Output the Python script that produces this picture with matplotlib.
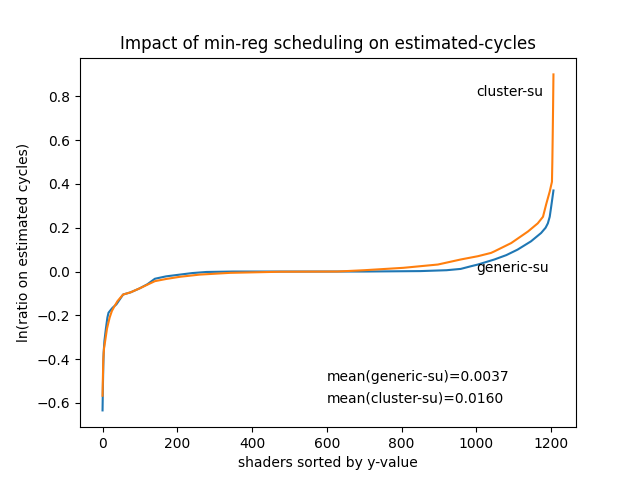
import matplotlib
matplotlib.use("Agg")
import matplotlib.pyplot as plt

generic_x = [0, 1, 2, 3, 5, 9, 13, 16, 22, 27, 37, 45, 55, 75, 99, 120, 140,
             170, 207, 240, 278, 350, 500, 700, 850, 920, 958, 985, 1004,
             1048, 1080, 1110, 1146, 1173, 1185, 1191, 1196, 1200, 1206]
generic_y = [-0.634, -0.52, -0.43, -0.37, -0.317, -0.26, -0.21, -0.188,
             -0.175, -0.165, -0.15, -0.13, -0.105, -0.095, -0.077, -0.058,
             -0.033, -0.022, -0.014, -0.007, -0.002, 0.0, 0.0, 0.0, 0.002,
             0.006, 0.012, 0.024, 0.032, 0.055, 0.075, 0.1, 0.138, 0.176,
             0.2, 0.22, 0.25, 0.297, 0.37]

cluster_x = [0, 1, 2, 4, 7, 12, 19, 25, 32, 40, 55, 75, 99, 120, 140, 170,
             207, 260, 341, 475, 628, 700, 805, 897, 958, 1004, 1039, 1048,
             1093, 1138, 1164, 1178, 1187, 1196, 1202, 1203, 1204, 1205, 1206]
cluster_y = [-0.567, -0.48, -0.4, -0.35, -0.317, -0.26, -0.21, -0.18, -0.158,
             -0.135, -0.105, -0.095, -0.077, -0.06, -0.044, -0.034, -0.024,
             -0.014, -0.006, -0.001, 0.0, 0.006, 0.017, 0.032, 0.055, 0.07,
             0.085, 0.092, 0.13, 0.183, 0.22, 0.25, 0.31, 0.365, 0.41, 0.5,
             0.62, 0.75, 0.90]

mean_generic = 0.0037
mean_cluster = 0.0160

fig, ax = plt.subplots(figsize=(6.4, 4.8), dpi=100)
ax.plot(generic_x, generic_y)
ax.plot(cluster_x, cluster_y)

ax.text(1000, 0.8, "cluster-su")
ax.text(1000, 0.0, "generic-su")
ax.text(600, -0.5, f"mean(generic-su)={mean_generic:.4f}")
ax.text(600, -0.6, f"mean(cluster-su)={mean_cluster:.4f}")

ax.set_title("Impact of min-reg scheduling on estimated-cycles")
ax.set_xlabel("shaders sorted by y-value")
ax.set_ylabel("ln(ratio on estimated cycles)")

plt.savefig("out.png")
